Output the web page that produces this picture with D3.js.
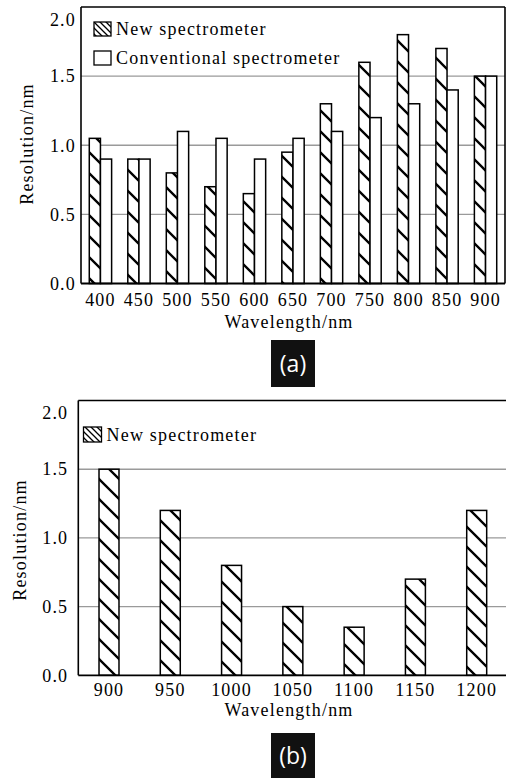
<!DOCTYPE html>
<html><head><meta charset="utf-8">
<script src="https://cdn.jsdelivr.net/npm/d3@7"></script>
<style>body{margin:0;background:#fff}svg{display:block}</style>
</head><body>
<svg id="c" width="506" height="778"></svg>
<script>
const wavelengthsA = ["400","450","500","550","600","650","700","750","800","850","900"];
const newA  = [1.05,0.9,0.8,0.7,0.65,0.95,1.3,1.6,1.8,1.7,1.5];
const convA = [0.9,0.9,1.1,1.05,0.9,1.05,1.1,1.2,1.3,1.4,1.5];
const wavelengthsB = ["900","950","1000","1050","1100","1150","1200"];
const newB  = [1.5,1.2,0.8,0.5,0.35,0.7,1.2];
const yTicks = [0,0.5,1.0,1.5,2.0];
const legendA = ["New spectrometer","Conventional spectrometer"];
const legendB = ["New spectrometer"];
const xTitle = "Wavelength/nm", yTitle = "Resolution/nm";

const svg = d3.select("#c");
const serif = "'Liberation Serif', 'Times New Roman', serif";
const FS = 18, LS = 1.2;
const defs = svg.append("defs");
function hatch(id, s, sw){
  const p = defs.append("pattern").attr("id",id).attr("patternUnits","userSpaceOnUse")
    .attr("width",s).attr("height",s);
  p.append("rect").attr("width",s).attr("height",s).attr("fill","#fff");
  p.append("path").attr("d",`M0,0L${s},${s}M${-2},${s-2}L2,${s+2}M${s-2},-2L${s+2},2`)
    .attr("stroke","#000").attr("stroke-width",sw).attr("fill","none");
}
hatch("hA",21,2.3);
hatch("hB",20,2.3);
hatch("hL",6,1.3);

function styleText(sel){
  sel.attr("font-family",serif).attr("font-size",FS).attr("letter-spacing",LS).attr("fill","#000");
}

function panel(o){
  const g = svg.append("g");
  const y = d3.scaleLinear().domain([0,2]).range([o.y0,o.y1]);
  const x = d3.scaleBand().domain(o.cats).range([o.xl,o.xr]).paddingInner(o.pi).paddingOuter(o.po);
  g.selectAll(".grid").data(yTicks.filter(d=>d>0 && d<2)).join("line")
    .attr("x1",o.xl).attr("x2",o.gridR).attr("y1",d=>y(d)).attr("y2",d=>y(d))
    .attr("stroke","#9a9a9a").attr("stroke-width",1.4);
  const sub = d3.scaleBand().domain(d3.range(o.series.length)).range([0,x.bandwidth()]);
  o.series.forEach((vals,si)=>{
    g.selectAll(null).data(vals).join("rect")
      .attr("x",(d,i)=>x(o.cats[i])+sub(si)).attr("width",sub.bandwidth())
      .attr("y",d=>y(d)).attr("height",d=>y(0)-y(d))
      .attr("fill",si===0?`url(#${o.pat})`:"#fff").attr("stroke","#000").attr("stroke-width",1.5);
  });
  const ax = d3.axisLeft(y).tickValues(yTicks).tickFormat(d3.format(".1f")).tickSize(0).tickPadding(o.ypad);
  const ya = g.append("g").attr("transform",`translate(${o.xl},0)`).call(ax).attr("font-family",serif);
  ya.select(".domain").remove();
  ya.selectAll("text").call(styleText).attr("dy",d=>d===2?"1em":"0.32em");
  g.append("line").attr("x1",o.xl).attr("x2",o.xl).attr("y1",o.y1).attr("y2",o.y0).attr("stroke","#000").attr("stroke-width",1.6);
  g.append("line").attr("x1",o.xl).attr("x2",o.frameR).attr("y1",o.y1).attr("y2",o.y1).attr("stroke","#000").attr("stroke-width",1.6);
  g.append("line").attr("x1",o.xl).attr("x2",o.frameR).attr("y1",o.y0).attr("y2",o.y0).attr("stroke","#000").attr("stroke-width",1.8);
  if(o.rightBorder) g.append("line").attr("x1",o.frameR).attr("x2",o.frameR).attr("y1",o.y1).attr("y2",o.y0).attr("stroke","#000").attr("stroke-width",1.6);
  const xa = d3.axisBottom(x).tickSize(0).tickPadding(o.xpad);
  const xg = g.append("g").attr("transform",`translate(0,${o.y0})`).call(xa).attr("font-family",serif);
  xg.select(".domain").remove();
  xg.selectAll("text").call(styleText);
  g.append("text").attr("x",o.xtX).attr("y",o.xtY).attr("text-anchor","middle").call(styleText).text(xTitle);
  g.append("text").attr("transform",`translate(${o.ytX},${o.ytY}) rotate(-90)`).attr("text-anchor","middle")
    .call(styleText).text(yTitle);
  o.legend.forEach((t,i)=>{
    const ly = o.legY + i*o.legStep;
    g.append("rect").attr("x",o.legX).attr("y",ly).attr("width",o.legW).attr("height",o.legH)
      .attr("fill",i===0?"url(#hL)":"#fff").attr("stroke","#000").attr("stroke-width",1.3);
    g.append("text").attr("x",o.legX+o.legW+5).attr("y",ly+o.legH-1).call(styleText).text(t);
  });
  g.append("rect").attr("x",271).attr("y",o.lblY).attr("width",44).attr("height",o.lblH).attr("fill","#111");
  g.append("text").attr("x",293).attr("y",o.lblY+o.lblH/2+8).attr("text-anchor","middle")
    .attr("font-family","'Open Sans', sans-serif").attr("font-size",23).attr("fill","#fff").text(o.lbl);
}

panel({cats:wavelengthsA, series:[newA,convA], pat:"hA", y0:283.5, y1:7, xl:81, xr:505, pi:0.42, po:0.215,
  gridR:505, frameR:505, rightBorder:true, ypad:5, xpad:10, xtX:289, xtY:328, ytX:33, ytY:144,
  legend:legendA, legX:94, legY:22, legStep:29, legW:17, legH:14, lblY:340, lblH:47, lbl:"(a)"});
panel({cats:wavelengthsB, series:[newB], pat:"hB", y0:675.3, y1:400.5, xl:78.3, xr:507.4, pi:0.674, po:0.338,
  gridR:506, frameR:506, rightBorder:false, ypad:10, xpad:7.5, xtX:289, xtY:716, ytX:26, ytY:540,
  legend:legendB, legX:83.5, legY:427, legStep:0, legW:18, legH:15, lblY:733, lblH:46, lbl:"(b)"});
</script>
</body></html>
